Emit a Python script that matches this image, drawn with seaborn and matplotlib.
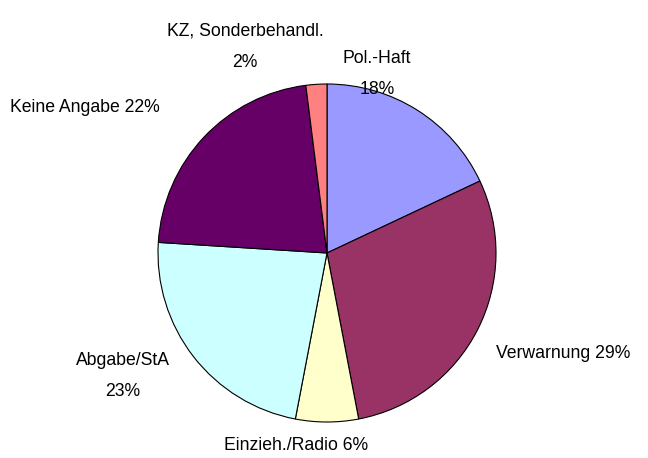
import matplotlib
matplotlib.use("Agg")
import matplotlib.pyplot as plt
import seaborn as sns

categories = ["Pol.-Haft", "Verwarnung", "Einzieh./Radio", "Abgabe/StA",
              "Keine Angabe", "KZ, Sonderbehandl."]
shares = [18, 29, 6, 23, 22, 2]
colors = ["#9999FF", "#993366", "#FFFFCC", "#CCFFFF", "#660066", "#FF8080"]

# label text and their pixel centres in the reference (x, y from top-left)
label_texts = ["Pol.-Haft\n18%", "Verwarnung 29%", "Einzieh./Radio 6%",
               "Abgabe/StA\n23%", "Keine Angabe 22%", "KZ, Sonderbehandl.\n2%"]
label_px = [(377, 74), (563, 353), (296, 446), (123, 376), (85, 108), (245, 47)]

sns.set_style("white")
plt.rcParams['font.family'] = ['Liberation Sans', 'DejaVu Sans']

W, H = 648, 458
cx, cy, r = 327, 253, 169

fig = plt.figure(figsize=(W / 100, H / 100), dpi=100)
ax = fig.add_axes([(cx - r) / W, (H - cy - r) / H, 2 * r / W, 2 * r / H])

ax.pie(shares, colors=sns.color_palette(colors), startangle=90, counterclock=False,
       radius=1, wedgeprops=dict(edgecolor="black", linewidth=0.8))
ax.set_xlim(-1, 1)
ax.set_ylim(-1, 1)
ax.set_aspect("equal")
ax.axis("off")

for txt, (px, py) in zip(label_texts, label_px):
    ax.text((px - cx) / r, (cy - py) / r, txt, ha="center", va="center",
            fontsize=12.7, linespacing=2.1, color="black", clip_on=False)

plt.savefig("out.png", dpi=100)
